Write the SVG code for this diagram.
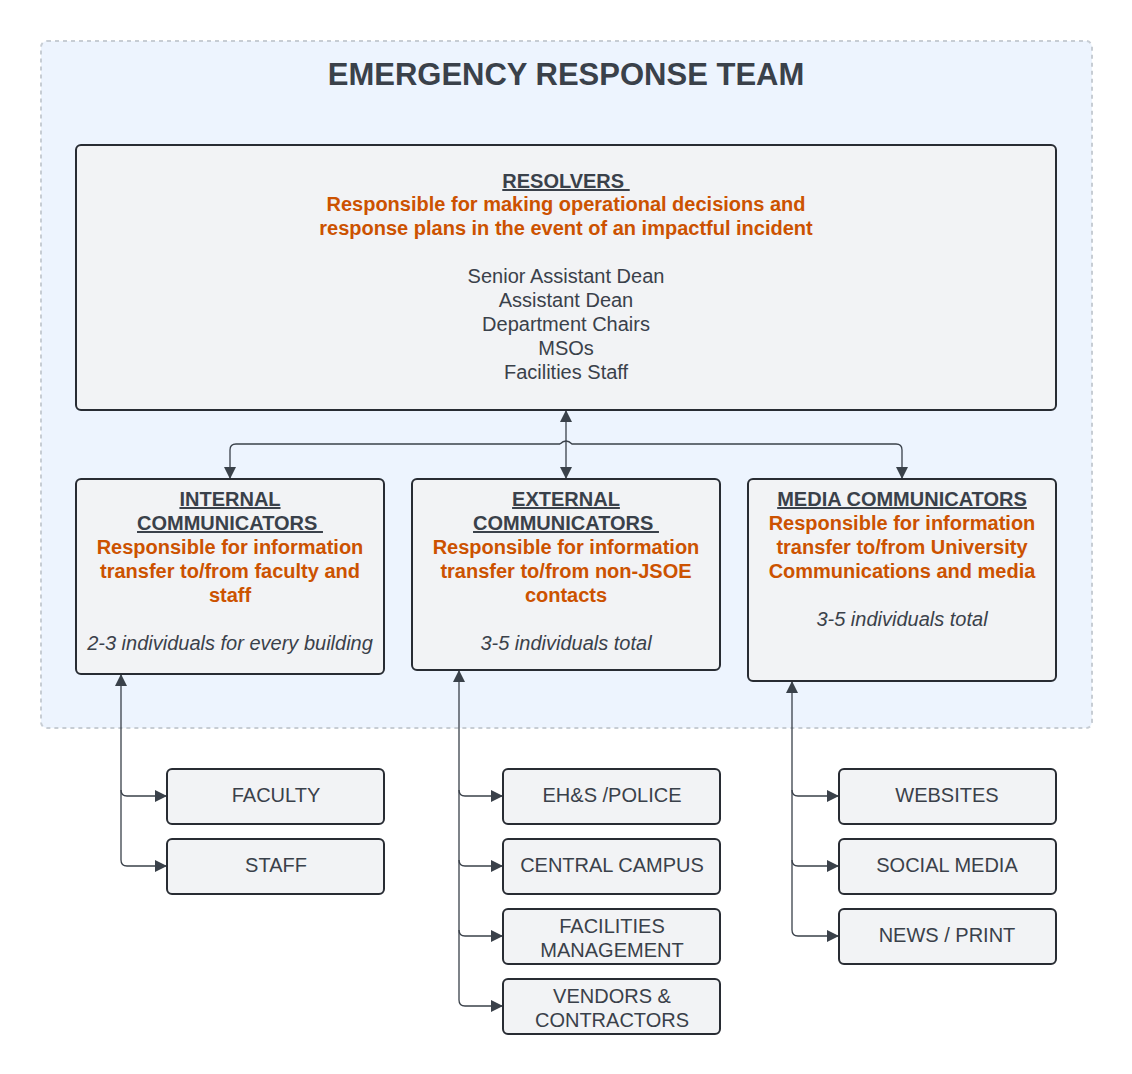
<svg xmlns="http://www.w3.org/2000/svg" width="1132" height="1074" viewBox="0 0 1132 1074">
<style>
.box{fill:#F2F3F5;stroke:#282C33;stroke-width:2}
.t{font-family:"Liberation Sans",Arial,sans-serif;font-size:20px;fill:#3A414A;text-anchor:middle}
.h{font-weight:bold;text-decoration:underline}
.o{font-weight:bold;fill:#CC5200}
.i{font-style:italic}
.c{fill:none;stroke:#3A414A;stroke-width:1.3}
</style>
<defs>
<marker id="ah" viewBox="0 0 12 12" refX="11" refY="6" markerWidth="12" markerHeight="12" markerUnits="userSpaceOnUse" orient="auto-start-reverse">
<path d="M0,0 L12,6 L0,12 Z" fill="#3A414A"/>
</marker>
</defs>
<rect width="1132" height="1074" fill="#FFFFFF"/>
<g id="container">
<rect x="41" y="41" width="1051" height="687" rx="6" fill="#EDF4FE" stroke="#C7CDD4" stroke-width="2" stroke-dasharray="4 4"/>
<text x="566" y="85" class="t" style="font-size:31px;font-weight:bold">EMERGENCY RESPONSE TEAM</text>
</g>
<g id="connectors">
<line class="c" x1="566" y1="411" x2="566" y2="478" marker-start="url(#ah)" marker-end="url(#ah)"/>
<path class="c" d="M560,444 H236 Q230,444 230,450 V478" marker-end="url(#ah)"/>
<path class="c" d="M560,444 Q566,438 572,444 H896 Q902,444 902,450 V478" marker-end="url(#ah)"/>
<path class="c" d="M121,675 V790 Q121,796 127,796 H166" marker-start="url(#ah)" marker-end="url(#ah)"/>
<path class="c" d="M121,790 V860 Q121,866 127,866 H166" marker-end="url(#ah)"/>
<path class="c" d="M459,671 V790 Q459,796 465,796 H502" marker-start="url(#ah)" marker-end="url(#ah)"/>
<path class="c" d="M459,790 V860 Q459,866 465,866 H502" marker-end="url(#ah)"/>
<path class="c" d="M459,860 V930 Q459,936 465,936 H502" marker-end="url(#ah)"/>
<path class="c" d="M459,930 V1000 Q459,1006 465,1006 H502" marker-end="url(#ah)"/>
<path class="c" d="M792,682 V790 Q792,796 798,796 H838" marker-start="url(#ah)" marker-end="url(#ah)"/>
<path class="c" d="M792,790 V860 Q792,866 798,866 H838" marker-end="url(#ah)"/>
<path class="c" d="M792,860 V930 Q792,936 798,936 H838" marker-end="url(#ah)"/>
</g>
<g id="resolvers">
<rect class="box" x="76" y="145" width="980" height="265" rx="5"/>
<text class="t h" x="566" y="188" xml:space="preserve">RESOLVERS </text>
<text class="t o" x="566" y="211">Responsible for making operational decisions and</text>
<text class="t o" x="566" y="235">response plans in the event of an impactful incident</text>
<text class="t" x="566" y="283">Senior Assistant Dean</text>
<text class="t" x="566" y="307">Assistant Dean</text>
<text class="t" x="566" y="331">Department Chairs</text>
<text class="t" x="566" y="355">MSOs</text>
<text class="t" x="566" y="379">Facilities Staff</text>
</g>
<g id="internal">
<rect class="box" x="76" y="479" width="308" height="195" rx="5"/>
<text class="t h" x="230" y="506">INTERNAL</text>
<text class="t h" x="230" y="530" xml:space="preserve">COMMUNICATORS </text>
<text class="t o" x="230" y="554">Responsible for information</text>
<text class="t o" x="230" y="578">transfer to/from faculty and</text>
<text class="t o" x="230" y="602">staff</text>
<text class="t i" x="230" y="650">2-3 individuals for every building</text>
</g>
<g id="external">
<rect class="box" x="412" y="479" width="308" height="191" rx="5"/>
<text class="t h" x="566" y="506">EXTERNAL</text>
<text class="t h" x="566" y="530" xml:space="preserve">COMMUNICATORS </text>
<text class="t o" x="566" y="554">Responsible for information</text>
<text class="t o" x="566" y="578">transfer to/from non-JSOE</text>
<text class="t o" x="566" y="602">contacts</text>
<text class="t i" x="566" y="650">3-5 individuals total</text>
</g>
<g id="media">
<rect class="box" x="748" y="479" width="308" height="202" rx="5"/>
<text class="t h" x="902" y="506">MEDIA COMMUNICATORS</text>
<text class="t o" x="902" y="530">Responsible for information</text>
<text class="t o" x="902" y="554">transfer to/from University</text>
<text class="t o" x="902" y="578">Communications and media</text>
<text class="t i" x="902" y="626">3-5 individuals total</text>
</g>
<g id="faculty"><rect class="box" x="167" y="769" width="217" height="55" rx="5"/><text class="t" x="276" y="802">FACULTY</text></g>
<g id="staff"><rect class="box" x="167" y="839" width="217" height="55" rx="5"/><text class="t" x="276" y="872">STAFF</text></g>
<g id="ehs"><rect class="box" x="503" y="769" width="217" height="55" rx="5"/><text class="t" x="612" y="802">EH&amp;S /POLICE</text></g>
<g id="central"><rect class="box" x="503" y="839" width="217" height="55" rx="5"/><text class="t" x="612" y="872">CENTRAL CAMPUS</text></g>
<g id="facilities"><rect class="box" x="503" y="909" width="217" height="55" rx="5"/><text class="t" x="612" y="933">FACILITIES</text><text class="t" x="612" y="957">MANAGEMENT</text></g>
<g id="vendors"><rect class="box" x="503" y="979" width="217" height="55" rx="5"/><text class="t" x="612" y="1003">VENDORS &amp;</text><text class="t" x="612" y="1027">CONTRACTORS</text></g>
<g id="websites"><rect class="box" x="839" y="769" width="217" height="55" rx="5"/><text class="t" x="947" y="802">WEBSITES</text></g>
<g id="social"><rect class="box" x="839" y="839" width="217" height="55" rx="5"/><text class="t" x="947" y="872">SOCIAL MEDIA</text></g>
<g id="news"><rect class="box" x="839" y="909" width="217" height="55" rx="5"/><text class="t" x="947" y="942">NEWS / PRINT</text></g>
</svg>
